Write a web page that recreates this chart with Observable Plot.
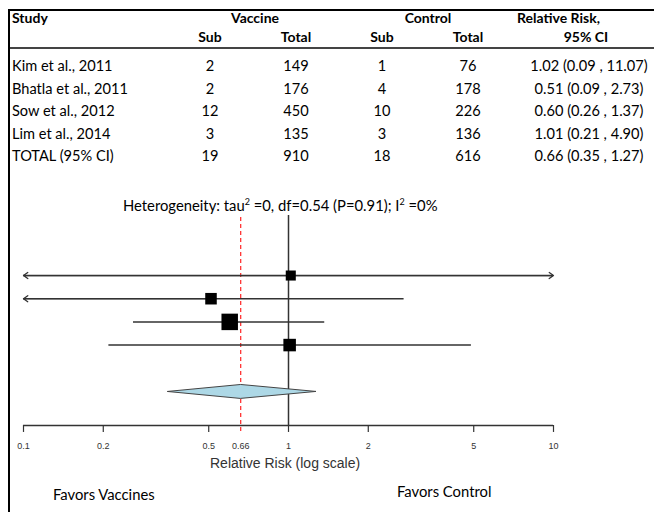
<!DOCTYPE html>
<html>
<head>
<meta charset="utf-8">
<script src="https://cdn.jsdelivr.net/npm/d3@7"></script>
<script src="https://cdn.jsdelivr.net/npm/@observablehq/plot@0.6"></script>
<style>
  body { margin: 0; background: #fff; }
  #fig { position: relative; width: 654px; height: 512px; overflow: hidden; font-family: Lato, "Open Sans", sans-serif; color: #000; }
  .frameBox { position: absolute; left: 8px; top: 9px; width: 646px; height: 503px; border-top: 2px solid #000; border-left: 2px solid #000; box-sizing: border-box; }
  .cell { position: absolute; font-size: 14.6px; line-height: 18px; white-space: nowrap; }
  .hdr { font-weight: bold; font-size: 14px; }
  .hline { position: absolute; left: 10px; width: 644px; top: 47px; height: 0; border-top: 2px solid #444; }
  .txt { position: absolute; white-space: nowrap; font-size: 14.8px; line-height: 16px; }
  .txt sup { font-size: 9px; vertical-align: 6px; line-height: 0; }
  #plot { position: absolute; left: 0; top: 185px; }
</style>
</head>
<body>
<div id="fig">
  <div class="frameBox"></div>
  <div class="hline"></div>
  <div class="txt" style="left:123px; top:197px;">Heterogeneity: tau<sup>2</sup> =0, df=0.54 (P=0.91); I<sup>2</sup> =0%</div>
  <div id="plot"></div>
  <div class="txt" style="left:210px; top:455px; font-family:'Liberation Sans', Arial, sans-serif; font-size:14px; color:#333;">Relative Risk (log scale)</div>
  <div class="txt" style="left:53px; top:486px;">Favors Vaccines</div>
  <div class="txt" style="left:397px; top:483px;">Favors Control</div>
</div>
<script>
// ---- data ----
const studies = ["Kim et al., 2011", "Bhatla et al., 2011", "Sow et al., 2012", "Lim et al., 2014"];
const vaccineSub = [2, 2, 12, 3];
const vaccineTotal = [149, 176, 450, 135];
const controlSub = [1, 4, 10, 3];
const controlTotal = [76, 178, 226, 136];
const rr = [1.02, 0.51, 0.60, 1.01];
const rrLow = [0.09, 0.09, 0.26, 0.21];
const rrHigh = [11.07, 2.73, 1.37, 4.90];
const boxWeight = [0.61, 0.70, 1.0, 0.76];   // relative box size

const totalLabel = "TOTAL (95% CI)";
const totalVaccineSub = 19, totalVaccineTotal = 910, totalControlSub = 18, totalControlTotal = 616;
const totalRR = 0.66, totalLow = 0.35, totalHigh = 1.27;

const tickValues = [0.1, 0.2, 0.5, 0.66, 1, 2, 5, 10];
const tickLabels = ["0.1", "0.2", "0.5", "0.66", "1", "2", "5", "10"];

// ---- table (HTML) ----
const fig = document.getElementById("fig");
function cell(text, cx, cy, opts = {}) {
  const d = document.createElement("div");
  d.className = "cell" + (opts.bold ? " hdr" : "");
  d.textContent = text;
  d.style.top = (cy - 9) + "px";
  if (opts.left) { d.style.left = cx + "px"; }
  else { d.style.left = (cx - 100) + "px"; d.style.width = "200px"; d.style.textAlign = "center"; }
  fig.appendChild(d);
}
const colX = {study: 12, vs: 210, vt: 296, cs: 382, ct: 468, rr: 589};
cell("Study", colX.study, 18, {left: true, bold: true});
cell("Vaccine", (colX.vs + colX.vt) / 2 + 2, 18, {bold: true});
cell("Control", (colX.cs + colX.ct) / 2 + 3, 18, {bold: true});
cell("Relative Risk,", 517, 18, {left: true, bold: true});
cell("Sub", colX.vs, 37, {bold: true});
cell("Total", colX.vt, 37, {bold: true});
cell("Sub", colX.cs, 37, {bold: true});
cell("Total", colX.ct, 37, {bold: true});
cell("95% CI", 586, 37, {bold: true});
const fmt = (e, l, h) => `${e.toFixed(2)} (${l.toFixed(2)} , ${h.toFixed(2)})`;
const rowY = i => 66 + i * 22.5;
studies.forEach((s, i) => {
  cell(s, colX.study, rowY(i), {left: true});
  cell(String(vaccineSub[i]), colX.vs, rowY(i));
  cell(String(vaccineTotal[i]), colX.vt, rowY(i));
  cell(String(controlSub[i]), colX.cs, rowY(i));
  cell(String(controlTotal[i]), colX.ct, rowY(i));
  cell(fmt(rr[i], rrLow[i], rrHigh[i]), colX.rr, rowY(i));
});
cell(totalLabel, colX.study, rowY(4), {left: true});
cell(String(totalVaccineSub), colX.vs, rowY(4));
cell(String(totalVaccineTotal), colX.vt, rowY(4));
cell(String(totalControlSub), colX.cs, rowY(4));
cell(String(totalControlTotal), colX.ct, rowY(4));
cell(fmt(totalRR, totalLow, totalHigh), colX.rr, rowY(4));

// ---- forest plot (Plot) ----
const xMin = tickValues[0], xMax = tickValues[tickValues.length - 1];
const clamp = v => Math.max(xMin, Math.min(xMax, v));
const rows = studies.map((s, i) => ({study: s, row: i, rr: rr[i], lo: rrLow[i], hi: rrHigh[i], w: boxWeight[i]}));
const totalRow = studies.length + 1;
const arrows = [];
rows.forEach(d => {
  if (d.lo < xMin) arrows.push({row: d.row, from: d.rr, to: xMin});
  if (d.hi > xMax) arrows.push({row: d.row, from: d.rr, to: xMax});
});
const dh = 0.3;
const diamond = [
  {x: totalLow, y: totalRow},
  {x: totalRR, y: totalRow - dh},
  {x: totalHigh, y: totalRow},
  {x: totalRR, y: totalRow + dh}
];
const yDomain = [-2.59, 6.47];
const ticks = tickValues.map((v, i) => ({v, label: tickLabels[i]}));

const chart = Plot.plot({
  width: 654,
  height: 327,
  marginTop: 30,
  marginBottom: 87,
  marginLeft: 23,
  marginRight: 101,
  style: {fontFamily: "'Liberation Sans', Arial, sans-serif", fontSize: "9px", color: "#333", background: "transparent"},
  x: {type: "log", domain: [xMin, xMax], axis: null},
  y: {domain: yDomain, reverse: true, axis: null},
  r: {type: "linear", domain: [0, 1], range: [0, 9.3]},
  marks: [
    Plot.ruleY([yDomain[1]], {stroke: "#333", strokeWidth: 1.5}),
    Plot.ruleX([1], {stroke: "#333", strokeWidth: 1.5}),
    Plot.ruleX([totalRR], {stroke: "#ff3535", strokeWidth: 1.3, strokeDasharray: "4,3", insetTop: 2, insetBottom: -7}),
    Plot.ruleY(rows, {y: "row", x1: d => clamp(d.lo), x2: d => clamp(d.hi), stroke: "#333", strokeWidth: 1.5}),
    Plot.arrow(arrows, {x1: "from", x2: "to", y1: "row", y2: "row", stroke: "#333", strokeWidth: 1.3, headLength: 6, headAngle: 70}),
    Plot.dot(rows, {x: "rr", y: "row", r: "w", symbol: "square", fill: "#000", stroke: null}),
    Plot.line(diamond, {x: "x", y: "y", curve: "linear-closed", fill: "#add8e6", stroke: "#444", strokeWidth: 1}),
    // axis ticks (the pooled estimate is marked by the red dashed line) and labels
    Plot.ruleX(ticks.filter(d => d.v !== totalRR), {x: "v", y1: yDomain[1], y2: yDomain[1] + 0.3, stroke: "#333", strokeWidth: 1.2}),
    Plot.text(ticks, {x: "v", text: "label", frameAnchor: "bottom", dy: 23, fill: "#333"})
  ]
});
document.getElementById("plot").appendChild(chart);
</script>
</body>
</html>
